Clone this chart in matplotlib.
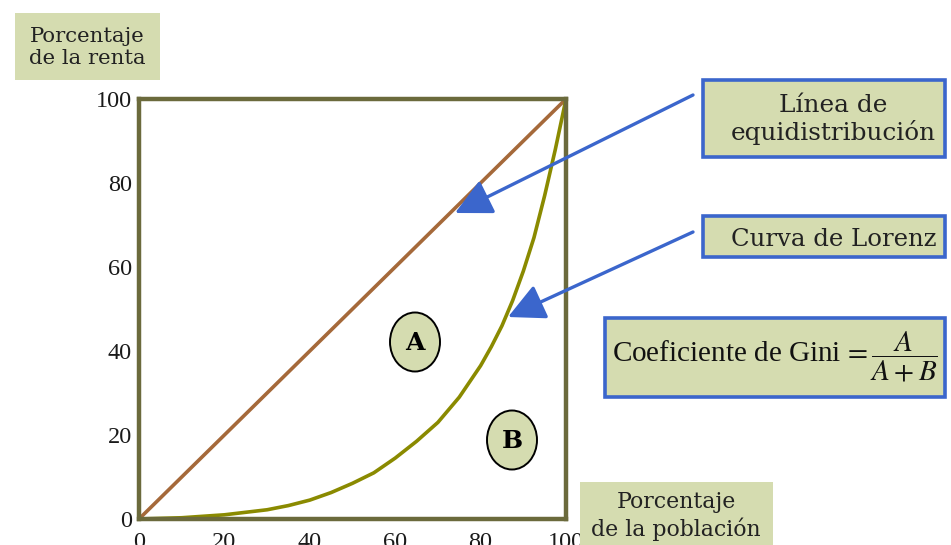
import matplotlib
matplotlib.use("Agg")
import matplotlib.pyplot as plt
from matplotlib.patches import Ellipse, Rectangle, FancyArrowPatch

# ---- data ----
ticks = [0, 20, 40, 60, 80, 100]
tick_labels = ["0", "20", "40", "60", "80", "100"]
equal_x = [0, 100]
equal_y = [0, 100]
lorenz_x = [0, 10, 20, 30, 35, 40, 45, 50, 55, 60, 65, 70, 75, 80, 82.5, 85, 87.5, 90, 92.5, 95, 97.5, 100]
lorenz_y = [0, 0.3, 1, 2.2, 3.2, 4.5, 6.3, 8.5, 11, 14.5, 18.5, 23, 29, 36.5, 41, 46, 52, 59, 67, 77, 88, 100]

FILL = "#d5dcb0"
BLUE = "#3b66cc"
FRAME = "#6b6a3c"

plt.rcParams['mathtext.fontset'] = 'stix'
fig = plt.figure(figsize=(9.51, 5.45), dpi=100)
ax = fig.add_axes([139/951, 26/545, (566-139)/951, (519-99)/545])
ax.set_xlim(0, 100)
ax.set_ylim(0, 100)
ax.plot(equal_x, equal_y, color="#a5693a", lw=2.6, solid_capstyle="round", clip_on=False, zorder=3)
ax.plot(lorenz_x, lorenz_y, color="#8a8a00", lw=2.6, solid_capstyle="round",
        solid_joinstyle="round", clip_on=False, zorder=3)
for s in ax.spines.values():
    s.set_color(FRAME)
    s.set_linewidth(3.2)
    s.set_zorder(5)
ax.set_xticks(ticks)
ax.set_xticklabels(tick_labels)
ax.set_yticks(ticks)
ax.set_yticklabels(tick_labels)
ax.tick_params(length=0, labelsize=17.5)
ax.tick_params(axis="x", pad=9)
ax.tick_params(axis="y", pad=5)
for lab in ax.get_xticklabels() + ax.get_yticklabels():
    lab.set_fontfamily("Liberation Serif")
    lab.set_color("#1a1a1a")

def px(x, y):
    return (x/951, 1 - y/545)

# ellipses A and B
for (cx, cy, t) in [(415, 342, "A"), (512, 440, "B")]:
    e = Ellipse(px(cx, cy), 50/951, 59/545, transform=fig.transFigure,
                facecolor=FILL, edgecolor="black", lw=1.4, zorder=6)
    fig.add_artist(e)
    fig.text(*px(cx, cy+1), t, ha="center", va="center", fontsize=18,
             fontweight="bold", family="DejaVu Serif", zorder=7)

def fbox(x0, y0, x1, y1, edge=None):
    r = Rectangle(px(x0, y1), (x1-x0)/951, (y1-y0)/545, transform=fig.transFigure,
                  facecolor=FILL, edgecolor=edge if edge else "none",
                  lw=2.6 if edge else 0, zorder=4)
    fig.add_artist(r)

fbox(15, 13, 160, 80)
fig.text(*px(87, 47), "Porcentaje\nde la renta", ha="center", va="center",
         fontsize=15.3, family="DejaVu Serif", linespacing=1.2, color="#222222", zorder=10)
fbox(580, 482, 773, 560)
fig.text(*px(676, 516), "Porcentaje\nde la población", ha="center", va="center",
         fontsize=15.8, family="DejaVu Serif", linespacing=1.2, color="#222222", zorder=10)

fbox(703, 80, 945, 157, edge=BLUE)
fig.text(*px(833, 119), "Línea de\nequidistribución", ha="center", va="center",
         fontsize=17.8, family="DejaVu Serif", linespacing=1.15, color="#222222", zorder=10)
fbox(703, 216, 945, 257, edge=BLUE)
fig.text(*px(834, 239), "Curva de Lorenz", ha="center", va="center",
         fontsize=17.6, family="DejaVu Serif", color="#222222", zorder=10)
fbox(605, 318, 945, 397, edge=BLUE)
fig.text(*px(775, 357), r"Coeficiente de Gini$\,=\dfrac{A}{A+B}$", ha="center", va="center",
         fontsize=21, family="Liberation Serif", color="#111111", zorder=10)

# arrows
for (x0, y0, x1, y1) in [(693, 95, 455, 213), (693, 232, 508, 317)]:
    fig.add_artist(FancyArrowPatch(
        px(x0, y0), px(x1, y1), transform=fig.transFigure,
        arrowstyle="-|>,head_length=1.6,head_width=0.8", mutation_scale=14,
        color=BLUE, lw=2.4, zorder=8, shrinkA=0, shrinkB=0))

fig.savefig("out.png", dpi=100)
